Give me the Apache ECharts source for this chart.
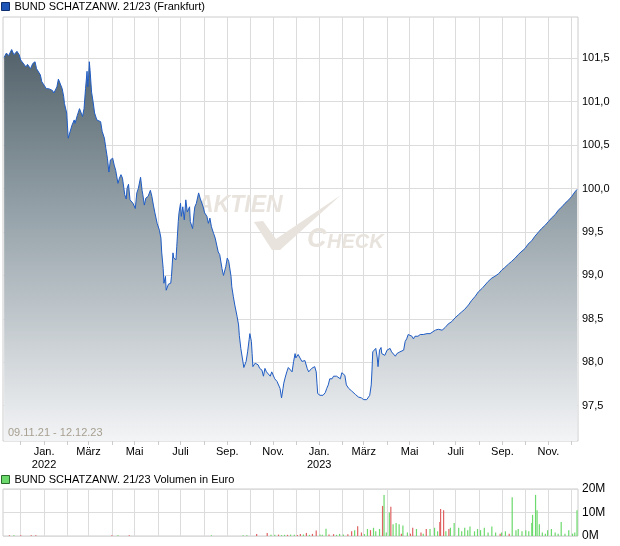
<!DOCTYPE html>
<html>
<head>
<meta charset="utf-8">
<script src="https://cdn.jsdelivr.net/npm/echarts@6/dist/echarts.min.js"></script>
<style>
html,body{margin:0;padding:0;background:#fff;}
#c{width:620px;height:546px;}
</style>
</head>
<body>
<div id="c"></div>
<script>
// ---------- DATA ----------
const priceName = 'BUND SCHATZANW. 21/23 (Frankfurt)';
const volumeName = 'BUND SCHATZANW. 21/23 Volumen in Euro';
const rangeText = '09.11.21 - 12.12.23';

const priceDates = [
'2021-11-09','2021-11-10','2021-11-12','2021-11-15','2021-11-19','2021-11-22','2021-11-26','2021-11-29','2021-12-01','2021-12-03',
'2021-12-08','2021-12-10','2021-12-14','2021-12-17','2021-12-20','2021-12-22','2021-12-27','2021-12-29','2021-12-31','2022-01-04',
'2022-01-07','2022-01-12','2022-01-14','2022-01-18','2022-01-20','2022-01-21','2022-01-25','2022-01-27','2022-01-28','2022-01-31',
'2022-02-02','2022-02-04','2022-02-07','2022-02-10','2022-02-11','2022-02-14','2022-02-17','2022-02-18','2022-02-21','2022-02-23',
'2022-02-25','2022-02-27','2022-02-28','2022-03-01','2022-03-02','2022-03-03','2022-03-05','2022-03-07','2022-03-09','2022-03-12',
'2022-03-14','2022-03-17','2022-03-19','2022-03-22','2022-03-24','2022-03-26','2022-03-28','2022-03-30','2022-04-02','2022-04-04',
'2022-04-06','2022-04-09','2022-04-11','2022-04-13','2022-04-15','2022-04-18','2022-04-20','2022-04-21','2022-04-23','2022-04-25',
'2022-04-27','2022-04-29','2022-05-02','2022-05-04','2022-05-06','2022-05-09','2022-05-11','2022-05-12','2022-05-14','2022-05-16',
'2022-05-19','2022-05-22','2022-05-24','2022-05-26','2022-05-28','2022-05-31','2022-06-03','2022-06-05','2022-06-06','2022-06-08',
'2022-06-09','2022-06-11','2022-06-12','2022-06-15','2022-06-18','2022-06-19','2022-06-21','2022-06-22','2022-06-25','2022-06-26',
'2022-06-28','2022-06-29','2022-07-01','2022-07-02','2022-07-04','2022-07-06','2022-07-08','2022-07-10','2022-07-13','2022-07-14',
'2022-07-17','2022-07-19','2022-07-20','2022-07-22','2022-07-25','2022-07-27','2022-07-29','2022-07-31','2022-08-02','2022-08-05',
'2022-08-07','2022-08-09','2022-08-11','2022-08-14','2022-08-16','2022-08-18','2022-08-20','2022-08-22','2022-08-25','2022-08-27',
'2022-08-29','2022-08-30','2022-09-01','2022-09-03','2022-09-05','2022-09-06','2022-09-07','2022-09-09','2022-09-11','2022-09-14',
'2022-09-16','2022-09-17','2022-09-19','2022-09-21','2022-09-23','2022-09-26','2022-09-28','2022-09-30','2022-10-01','2022-10-03',
'2022-10-04','2022-10-05','2022-10-08','2022-10-10','2022-10-12','2022-10-14','2022-10-17','2022-10-19','2022-10-21','2022-10-23',
'2022-10-25','2022-10-28','2022-10-30','2022-11-01','2022-11-03','2022-11-06','2022-11-08','2022-11-10','2022-11-12','2022-11-14',
'2022-11-15','2022-11-17','2022-11-19','2022-11-21','2022-11-23','2022-11-26','2022-11-28','2022-11-30','2022-12-01','2022-12-04',
'2022-12-06','2022-12-09','2022-12-11','2022-12-13','2022-12-16','2022-12-18','2022-12-20','2022-12-22','2022-12-24','2022-12-26',
'2022-12-28','2022-12-29','2022-12-30','2023-01-02','2023-01-04','2023-01-06','2023-01-09','2023-01-11','2023-01-13','2023-01-15',
'2023-01-18','2023-01-20','2023-01-22','2023-01-24','2023-01-26','2023-01-29','2023-01-31','2023-02-02','2023-02-04','2023-02-06',
'2023-02-09','2023-02-11','2023-02-13','2023-02-15','2023-02-18','2023-02-20','2023-02-22','2023-02-24','2023-02-26','2023-03-01',
'2023-03-03','2023-03-05','2023-03-07','2023-03-09','2023-03-11','2023-03-12','2023-03-13','2023-03-15','2023-03-17','2023-03-19',
'2023-03-20','2023-03-22','2023-03-24','2023-03-25','2023-03-27','2023-03-29','2023-04-01','2023-04-03','2023-04-05','2023-04-07',
'2023-04-09','2023-04-12','2023-04-14','2023-04-16','2023-04-18','2023-04-20','2023-04-23','2023-04-25','2023-04-27','2023-04-29',
'2023-05-01','2023-05-04','2023-05-06','2023-05-08','2023-05-10','2023-05-12','2023-05-15','2023-05-17','2023-05-19','2023-05-21',
'2023-05-24','2023-05-26','2023-05-28','2023-06-04','2023-06-08','2023-06-13','2023-06-17','2023-06-21','2023-06-26','2023-06-30',
'2023-07-05','2023-07-09','2023-07-13','2023-07-18','2023-07-22','2023-07-27','2023-07-31','2023-08-05','2023-08-09','2023-08-13',
'2023-08-18','2023-08-22','2023-08-27','2023-08-31','2023-09-04','2023-09-09','2023-09-13','2023-09-18','2023-09-22','2023-09-27',
'2023-10-01','2023-10-05','2023-10-10','2023-10-14','2023-10-19','2023-10-23','2023-10-28','2023-11-01','2023-11-05','2023-11-10',
'2023-11-14','2023-11-19','2023-11-23','2023-11-28','2023-12-02','2023-12-06','2023-12-09'
];
const priceValues = [
101.51,101.49,101.56,101.53,101.60,101.54,101.58,101.54,101.48,101.50,
101.40,101.43,101.38,101.44,101.46,101.38,101.31,101.23,101.21,101.15,
101.15,101.13,101.10,101.17,101.26,101.24,101.15,101.06,100.98,100.87,
100.58,100.64,100.73,100.79,100.75,100.84,100.92,100.94,100.83,100.92,
101.15,101.35,101.17,101.27,101.46,101.36,101.11,101.00,100.87,100.79,
100.81,100.77,100.66,100.58,100.46,100.35,100.19,100.33,100.35,100.27,
100.21,100.06,100.12,100.16,100.12,99.93,99.88,100.00,100.05,99.87,
99.86,99.83,99.77,99.95,100.00,100.13,99.98,99.93,99.81,99.89,
99.91,99.98,99.91,99.81,99.72,99.60,99.52,99.43,99.27,99.08,
98.91,98.99,98.83,98.90,98.91,98.99,99.26,99.20,99.18,99.33,
99.62,99.72,99.83,99.68,99.79,99.64,99.87,99.73,99.79,99.62,
99.54,99.72,99.79,99.83,99.95,99.89,99.91,99.79,99.72,99.68,
99.60,99.66,99.56,99.48,99.43,99.35,99.27,99.24,99.08,99.00,
99.02,99.10,99.20,99.16,99.16,98.99,98.87,98.76,98.66,98.53,
98.43,98.31,98.16,98.05,97.94,98.01,98.12,98.26,98.33,98.24,
98.10,97.95,97.99,97.99,97.97,97.93,97.91,97.84,97.93,97.89,
97.91,97.84,97.89,97.87,97.81,97.78,97.76,97.70,97.59,97.70,
97.76,97.83,97.89,97.94,97.95,97.89,98.01,98.10,98.05,98.09,
98.09,98.01,97.99,98.02,97.93,97.89,97.91,97.93,97.91,97.95,
97.89,97.76,97.64,97.62,97.63,97.62,97.65,97.70,97.74,97.81,
97.81,97.84,97.85,97.84,97.84,97.81,97.88,97.87,97.85,97.74,
97.70,97.69,97.67,97.65,97.63,97.62,97.60,97.61,97.59,97.57,
97.57,97.57,97.56,97.62,97.74,97.91,98.12,98.14,98.16,98.05,
97.95,98.14,98.17,98.10,98.12,98.08,98.14,98.15,98.16,98.12,
98.11,98.07,98.10,98.10,98.12,98.10,98.14,98.24,98.27,98.32,
98.30,98.30,98.27,98.30,98.32,98.30,98.32,98.32,98.32,98.34,
98.33,98.34,98.33,98.37,98.38,98.37,98.40,98.44,98.47,98.51,
98.55,98.58,98.61,98.66,98.71,98.76,98.81,98.85,98.89,98.93,
98.97,98.99,99.02,99.06,99.09,99.13,99.16,99.20,99.24,99.28,
99.31,99.36,99.40,99.45,99.50,99.54,99.58,99.62,99.66,99.70,
99.75,99.79,99.83,99.87,99.91,99.96,99.99
];

// volume in million euro: up days (green) and down days (red)
const upVolDates = [
'2021-11-22','2022-04-09','2022-08-11','2022-09-22','2022-09-27','2022-10-29','2022-11-03','2022-11-12','2022-11-16','2022-11-24',
'2022-11-29','2022-12-11','2022-12-19','2023-01-02','2023-01-05','2023-01-10','2023-01-24','2023-01-28','2023-02-02','2023-02-17',
'2023-03-02','2023-03-06','2023-03-14','2023-03-17','2023-03-22','2023-03-28','2023-03-31','2023-04-04','2023-04-09','2023-04-13',
'2023-04-17','2023-04-22','2023-04-28','2023-05-10','2023-05-19','2023-05-28','2023-06-03','2023-06-07','2023-06-18','2023-06-24',
'2023-06-29','2023-07-05','2023-07-09','2023-07-13','2023-07-17','2023-07-20','2023-07-26','2023-07-30','2023-08-03','2023-08-08',
'2023-08-13','2023-08-18','2023-08-23','2023-08-31','2023-09-05','2023-09-14','2023-09-19','2023-09-22','2023-09-27','2023-10-02',
'2023-10-06','2023-10-10','2023-10-11','2023-10-15','2023-10-17','2023-10-20','2023-10-24','2023-10-28','2023-10-31','2023-11-05',
'2023-11-10','2023-11-14','2023-11-18','2023-11-23','2023-11-28','2023-12-03','2023-12-06','2023-12-09'
];
const upVol = [
0.3,0.3,0.3,0.3,0.3,0.5,0.5,0.4,0.5,0.6,
0.5,0.6,0.5,0.6,0.5,3.1,0.5,0.9,0.6,2.5,
0.8,3.0,3.5,2.0,3.0,17.4,1.5,10.0,5.0,5.5,
5.0,4.5,1.5,3.0,1.0,3.0,3.5,2.0,2.0,3.5,
5.5,3.5,2.0,3.5,2.5,4.0,2.0,3.0,2.5,3.5,
1.5,4.0,1.5,1.5,2.0,16.5,2.5,3.0,2.0,2.5,
2.0,5.5,9.0,17.5,11.0,5.0,1.5,1.0,2.5,3.0,
1.5,1.0,6.0,1.0,2.5,1.0,1.5,11.0
];
const downVolDates = [
'2021-11-16','2021-12-01','2021-12-15','2021-12-21','2022-04-01','2022-04-24','2022-10-10','2022-10-24','2022-11-08','2022-11-20',
'2022-12-03','2022-12-07','2022-12-15','2022-12-23','2022-12-28','2023-01-14','2023-01-20','2023-02-08','2023-02-13','2023-02-21',
'2023-02-26','2023-03-10','2023-03-26','2023-04-06','2023-04-20','2023-05-02','2023-05-05','2023-05-16','2023-05-23','2023-06-10',
'2023-06-11','2023-06-15','2023-06-22','2023-08-29','2023-09-10'
];
const downVol = [
0.3,0.3,0.3,0.3,0.3,0.3,0.8,1.3,0.6,0.5,
0.4,0.8,1.3,0.9,2.3,0.6,0.8,0.7,2.0,4.2,
1.5,2.5,12.8,12.5,1.0,1.0,3.5,1.5,3.0,6.0,
11.5,11.0,3.0,1.0,1.0
];

const monthTicks = [
'2021-12-01','2022-01-01','2022-02-01','2022-03-01','2022-04-01','2022-05-01','2022-06-01','2022-07-01','2022-08-01','2022-09-01',
'2022-10-01','2022-11-01','2022-12-01','2023-01-01','2023-02-01','2023-03-01','2023-04-01','2023-05-01','2023-06-01','2023-07-01',
'2023-08-01','2023-09-01','2023-10-01','2023-11-01','2023-12-01'
];
const labelTicks = ['2022-01-01','2022-03-01','2022-05-01','2022-07-01','2022-09-01','2022-11-01','2023-01-01','2023-03-01','2023-05-01','2023-07-01','2023-09-01','2023-11-01'];
const labelTexts = ['Jan.\n2022','März','Mai','Juli','Sep.','Nov.','Jan.\n2023','März','Mai','Juli','Sep.','Nov.'];
const priceTicks = [97.5,98.0,98.5,99.0,99.5,100.0,100.5,101.0,101.5];
const volTicks = [0,10,20];

// ---------- CHART ----------
const FONT = 'Arial, "Liberation Sans", sans-serif';
const ts = d => Date.parse(d.length === 10 ? d + 'T00:00:00Z' : d + 'Z');
const xMin = ts('2021-11-07T12:00:00');
const xMax = ts('2023-12-10T07:00:00');
const monthTickVals = monthTicks.map(ts);
const labelTickVals = labelTicks.map(ts);
const labelMap = {};
labelTickVals.forEach((t, i) => { labelMap[t] = labelTexts[i]; });

const chart = echarts.init(document.getElementById('c'), null, {renderer: 'canvas'});
const price = priceDates.map((d, i) => [ts(d), priceValues[i]]);
const upData = upVolDates.map((d, i) => [ts(d), upVol[i]]);
const downData = downVolDates.map((d, i) => [ts(d), downVol[i]]);

const gridLine = {show: true, lineStyle: {color: '#dcdcdc', width: 1}};
const wm = '#e8e3dd';

chart.setOption({
  animation: false,
  textStyle: {fontFamily: FONT},
  legend: [
    {left: 1, top: 1, itemWidth: 8, itemHeight: 8, padding: 0,
     textStyle: {fontSize: 11, color: '#000', fontFamily: FONT},
     data: [{name: priceName, icon: 'rect', itemStyle: {color: '#1e56b8', borderColor: '#0d2e6e', borderWidth: 1}}]},
    {left: 1, top: 474, itemWidth: 8, itemHeight: 8, padding: 0,
     textStyle: {fontSize: 11, color: '#000', fontFamily: FONT},
     data: [{name: volumeName, icon: 'rect', itemStyle: {color: '#6cd96c', borderColor: '#2a6a2a', borderWidth: 1}}]}
  ],
  grid: [
    {left: 3, right: 42, top: 17, height: 424, show: true, backgroundColor: '#fff', borderColor: '#cccccc', borderWidth: 1},
    {left: 3, right: 42, top: 489, height: 47, show: true, backgroundColor: '#fff', borderColor: '#cccccc', borderWidth: 1}
  ],
  xAxis: [
    {type: 'value', gridIndex: 0, min: xMin, max: xMax, scale: true,
     axisLine: {show: false},
     axisTick: {show: true, length: 4, lineStyle: {color: '#cccccc'}, customValues: monthTickVals},
     splitLine: Object.assign({customValues: monthTickVals}, gridLine),
     axisLabel: {customValues: labelTickVals, fontSize: 11, color: '#000', fontFamily: FONT, margin: 4, lineHeight: 13,
       formatter: v => labelMap[v] || ''}},
    {type: 'value', gridIndex: 1, min: xMin, max: xMax, scale: true,
     axisLine: {show: false}, axisTick: {show: false, customValues: monthTickVals},
     axisLabel: {show: false, customValues: monthTickVals},
     splitLine: Object.assign({customValues: monthTickVals}, gridLine)}
  ],
  yAxis: [
    {type: 'value', gridIndex: 0, position: 'right', min: 97.094, max: 101.975,
     axisLine: {show: false}, axisTick: {show: false, customValues: priceTicks},
     splitLine: Object.assign({customValues: priceTicks}, gridLine),
     axisLabel: {customValues: priceTicks, fontSize: 11, color: '#000', fontFamily: FONT, margin: 4,
       formatter: v => v.toFixed(1).replace('.', ',')}},
    {type: 'value', gridIndex: 1, position: 'right', min: 0, max: 20,
     axisLine: {show: false}, axisTick: {show: false, customValues: volTicks},
     splitLine: Object.assign({customValues: volTicks}, gridLine),
     axisLabel: {customValues: volTicks, fontSize: 12, color: '#000', fontFamily: FONT, margin: 4,
       formatter: v => v + 'M'}}
  ],
  graphic: [
    {type: 'text', z: 1, left: 197, top: 194, style: {text: 'AKTIEN', fill: wm, font: 'italic bold 23px ' + FONT}},
    {type: 'text', z: 1, left: 307, top: 226, style: {text: 'C', fill: wm, font: 'italic bold 27px ' + FONT}},
    {type: 'text', z: 1, left: 327, top: 232, style: {text: 'HECK', fill: wm, font: 'italic bold 20px ' + FONT}},
    {type: 'polygon', z: 1, shape: {points: [[254,222],[263,221],[276,239],[341,195],[280,250],[272,250]]}, style: {fill: wm}},
    {type: 'text', z: 10, left: 8, top: 427, style: {text: rangeText, fill: '#a79f90', font: '11px ' + FONT}}
  ],
  series: [
    {name: priceName, type: 'line', xAxisIndex: 0, yAxisIndex: 0, data: price, symbol: 'none', z: 3,
     lineStyle: {color: '#1f5cc4', width: 1},
     itemStyle: {color: '#1e56b8'},
     areaStyle: {origin: 'start', opacity: 1,
       color: {type: 'linear', x: 0, y: 17, x2: 0, y2: 441, global: true,
         colorStops: [{offset: 0, color: '#46555e'}, {offset: 0.45, color: '#93a0a7'}, {offset: 1, color: '#f3f4f6'}]}}},
    {name: volumeName, type: 'bar', xAxisIndex: 1, yAxisIndex: 1, data: upData, barWidth: 1.2, barGap: '-100%',
     itemStyle: {color: '#6cd96c'}},
    {name: 'down', type: 'bar', xAxisIndex: 1, yAxisIndex: 1, data: downData, barWidth: 1.2, barGap: '-100%',
     itemStyle: {color: '#e06363'}}
  ]
});
</script>
</body>
</html>
